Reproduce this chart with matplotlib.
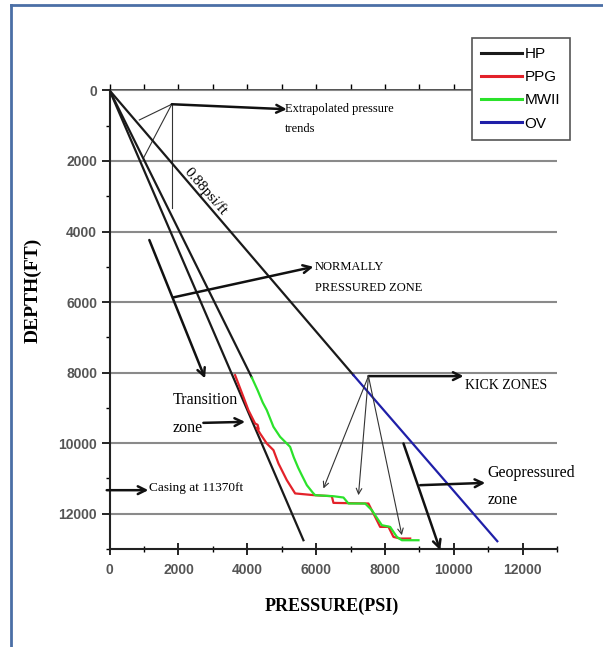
import matplotlib.pyplot as plt
from matplotlib.lines import Line2D
from matplotlib.ticker import MultipleLocator

# pressure (psi) against depth (ft)
hp_p = [0, 5631]
hp_d = [0, 12752]
hp2_p = [0, 4131]
hp2_d = [0, 8139]
ob_p = [0, 7084]
ob_d = [0, 8071]

ppg_p = [3645, 3887, 4032, 4227, 4300, 4330, 4270, 4372, 4567, 4760, 4905, 5148, 5390,
         5922, 6456, 6503, 7520, 7715, 7860, 8102, 8247, 8442, 8733]
ppg_d = [8071, 8688, 9064, 9442, 9480, 9600, 9560, 9726, 10010, 10198, 10575, 11048, 11425,
         11473, 11504, 11693, 11711, 12091, 12374, 12374, 12658, 12704, 12704]

mw_p = [4131, 4300, 4450, 4567, 4760, 4953, 5148, 5244, 5350, 5480, 5580, 5730, 5900, 5971,
        6503, 6794, 6939, 7424, 7619, 7811, 7910, 8151, 8346, 8491, 8974]
mw_d = [8139, 8500, 8850, 9065, 9537, 9820, 10010, 10104, 10400, 10700, 10900, 11191, 11400,
        11475, 11504, 11541, 11711, 11711, 11901, 12184, 12326, 12374, 12658, 12752, 12752]

ov_p = [7084, 11264]
ov_d = [8071, 12780]

serif = 'Liberation Serif'
tick_font = ['Liberation Sans Narrow', 'Liberation Sans']

fig = plt.figure(figsize=(6.03, 6.47), dpi=100)
ax = fig.add_axes([0.1818, 0.1515, 0.742, 0.7087])

ax.plot(hp_p, hp_d, color='#1a1a1a', lw=1.6, label='HP', zorder=3)
ax.plot(hp2_p, hp2_d, color='#1a1a1a', lw=1.6, zorder=3)
ax.plot(ob_p, ob_d, color='#1a1a1a', lw=1.6, zorder=3)
ax.plot(ppg_p, ppg_d, color='#e3222a', lw=1.6, label='PPG', zorder=4)
ax.plot(mw_p, mw_d, color='#2be22b', lw=1.6, label='MWII', zorder=5)
ax.plot(ov_p, ov_d, color='#1f1fa8', lw=1.6, label='OV', zorder=3)

ax.set_xlim(0, 13000)
ax.set_ylim(13000, 0)
ax.xaxis.set_major_locator(MultipleLocator(2000))
ax.xaxis.set_minor_locator(MultipleLocator(1000))
ax.yaxis.set_major_locator(MultipleLocator(2000))
ax.yaxis.set_minor_locator(MultipleLocator(1000))

ax.set_axisbelow(True)
ax.yaxis.grid(True, color='#8a8a8a', lw=1.5)
for side in ['top', 'right']:
    ax.spines[side].set_visible(False)
for side in ['left', 'bottom']:
    ax.spines[side].set_linewidth(1.5)
    ax.spines[side].set_color('#222222')

ax.tick_params(axis='x', which='major', direction='inout', length=8, width=1.2, pad=6)
ax.tick_params(axis='x', which='minor', direction='inout', length=5, width=1.0)
ax.tick_params(axis='y', which='major', direction='out', length=6, width=1.2, pad=3)
ax.tick_params(axis='y', which='minor', direction='out', length=3, width=1.0)
for lab in ax.get_xticklabels() + ax.get_yticklabels():
    lab.set_family(tick_font)
    lab.set_fontweight('bold')
    lab.set_fontsize(10)
    lab.set_color('#555555')

# ticks along the zero-depth line point upward
top = ax.secondary_xaxis('top')
top.xaxis.set_major_locator(MultipleLocator(1000))
top.tick_params(axis='x', direction='out', length=4, width=1.0, labeltop=False)
top.spines['top'].set_color('#444444')
top.spines['top'].set_linewidth(1.3)

ax.set_xlabel('PRESSURE(PSI)', family=serif, fontweight='bold', fontsize=13)
ax.xaxis.set_label_coords(0.497, -0.107)
ax.set_ylabel('DEPTH(FT)', family=serif, fontweight='bold', fontsize=14)
ax.yaxis.set_label_coords(-0.151, 0.565)

thick = dict(arrowstyle='->', lw=1.8, color='#111111', shrinkA=0, shrinkB=0,
             mutation_scale=14)
thin = dict(arrowstyle='->', lw=0.8, color='#333333', shrinkA=0, shrinkB=0,
            mutation_scale=10)


def arrow(start, end, props):
    ax.annotate('', xy=end, xytext=start, arrowprops=props, annotation_clip=False)


def segment(start, end):
    ax.plot([start[0], end[0]], [start[1], end[1]], color='#333333', lw=0.8,
            clip_on=False)


# extrapolated trend pointers
arrow((1805, 391), (5148, 533), thick)
segment((1805, 391), (863, 837))
segment((1805, 391), (980, 1923))
segment((1805, 391), (1805, 3342))
ax.text(5099, 533, 'Extrapolated pressure', family=serif, fontsize=9, va='center')
ax.text(5099, 1101, 'trends', family=serif, fontsize=9, va='center')

ax.text(2773, 2851, '0.88psi/ft', family=serif, fontsize=11, rotation=-49,
        rotation_mode='anchor', ha='center', va='center')

arrow((1852, 5867), (5922, 5000), thick)
ax.text(5971, 4999, 'NORMALLY', family=serif, fontsize=9, va='center')
ax.text(5971, 5611, 'PRESSURED ZONE', family=serif, fontsize=9, va='center')

arrow((1154, 4241), (2773, 8165), thick)
ax.text(1834, 8780, 'Transition', family=serif, fontsize=11.5, va='center')
ax.text(1834, 9583, 'zone', family=serif, fontsize=11.5, va='center')
arrow((2724, 9424), (3936, 9396), thick)

arrow((-84, 11333), (1125, 11333), thick)
ax.text(1154, 11285, 'Casing at 11370ft', family=serif, fontsize=9.5, va='center')

arrow((7520, 8099), (10282, 8099), thick)
ax.text(10331, 8355, 'KICK ZONES', family=serif, fontsize=10, va='center')
arrow((7520, 8099), (6212, 11285), thin)
arrow((7520, 8099), (7230, 11475), thin)
arrow((7520, 8099), (8491, 12610), thin)

arrow((8538, 10009), (9605, 13035), thick)
arrow((9023, 11191), (10913, 11126), thick)
ax.text(10990, 10843, 'Geopressured', family=serif, fontsize=11.5, va='center')
ax.text(10990, 11617, 'zone', family=serif, fontsize=11.5, va='center')

leg = ax.legend(loc='upper left', bbox_to_anchor=(472 / 603, 1 - 38 / 647),
                bbox_transform=fig.transFigure, borderaxespad=0, fancybox=False,
                prop={'family': 'Liberation Sans', 'size': 11}, handlelength=2.7,
                handletextpad=0.15, labelspacing=0.6, borderpad=0.6, framealpha=1)
leg.get_frame().set_edgecolor('#555555')
leg.get_frame().set_linewidth(1.2)
for h in leg.get_lines():
    h.set_linewidth(2.2)

# slide frame
fig.add_artist(Line2D([11 / 603, 11 / 603], [0, 1 - 5 / 647], transform=fig.transFigure,
                      color='#4b6fa6', lw=2))
fig.add_artist(Line2D([11 / 603, 1], [1 - 5 / 647, 1 - 5 / 647], transform=fig.transFigure,
                      color='#4b6fa6', lw=2))

fig.savefig('out.png', dpi=100)
